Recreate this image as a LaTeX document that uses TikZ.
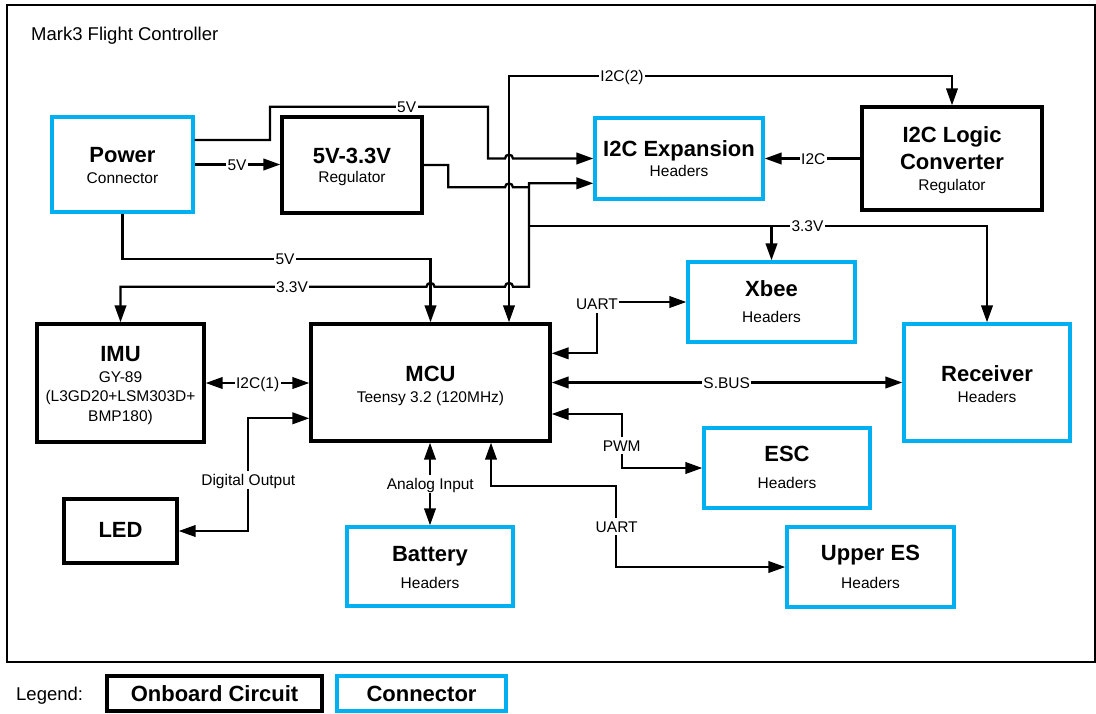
\documentclass[tikz,border=0pt]{standalone}
\usepackage{fontspec}
\setmainfont{Liberation Sans}
\usetikzlibrary{arrows.meta}
\definecolor{conn}{RGB}{0,176,240}
\newcommand\fbig{\fontsize{22}{26}\selectfont\bfseries}
\newcommand\fsm{\fontsize{15.5}{18}\selectfont}
\newcommand\fttl{\fontsize{18.5}{22}\selectfont}
\begin{document}
\begin{tikzpicture}[x=1pt,y=-1pt,
  >={Triangle[length=17pt,width=11.5pt]},
  wire/.style={line width=2.3pt,draw=black},
  onb/.style={draw=black,line width=3.3pt,inner sep=0pt},
  con/.style={draw=conn,line width=3.3pt,inner sep=0pt},
  ttl/.style={font=\fbig,inner sep=0pt,text height=15.75pt,text depth=0pt},
  sub/.style={font=\fsm,inner sep=0pt,text height=11.1pt,text depth=0pt},
  lbl/.style={font=\fsm,fill=white,inner xsep=1.5pt,inner ysep=3pt,text height=11.1pt,text depth=0pt}]
\useasboundingbox (0,0) rectangle (1096,713);
% frame
\draw[line width=2.2pt] (7,5) rectangle (1095,662);
\node[font=\fttl,anchor=base west,inner sep=0pt] (title) at (31,40) {Mark3 Flight Controller};
% boxes
\node[con,minimum width=141pt,minimum height=95pt] (pw) at (122.5,164.5) {};
\node[onb,minimum width=140pt,minimum height=96pt] (reg) at (352,165) {};
\node[con,minimum width=168pt,minimum height=81pt] (i2cx) at (679,158.5) {};
\node[onb,minimum width=180pt,minimum height=103pt] (i2cl) at (952,158.5) {};
\node[con,minimum width=167pt,minimum height=80pt] (xbee) at (771.5,302) {};
\node[con,minimum width=166pt,minimum height=117pt] (rcv) at (987,382.5) {};
\node[onb,minimum width=167pt,minimum height=118pt] (imu) at (120.5,383) {};
\node[onb,minimum width=239pt,minimum height=117pt] (mcu) at (430.5,382.5) {};
\node[con,minimum width=166pt,minimum height=80pt] (esc) at (787,468) {};
\node[con,minimum width=167pt,minimum height=80pt] (upes) at (870.5,567) {};
\node[con,minimum width=166pt,minimum height=79pt] (bat) at (430,566.5) {};
\node[onb,minimum width=113pt,minimum height=64pt] (led) at (120.5,531) {};
% box texts
\node[ttl] (pwT) at (122.5,155) {Power};
\node[sub] (pwS) at (122.5,177.5) {Connector};
\node[ttl] (regT) at (352,155.3) {5V-3.3V};
\node[sub] (regS) at (352,176.7) {Regulator};
\node[ttl] (i2cxT) at (679,148.3) {I2C Expansion};
\node[sub] (i2cxS) at (679,171.3) {Headers};
\node[ttl] (i2clT) at (952,134.7) {I2C Logic};
\node[ttl] (i2clT2) at (952,162) {Converter};
\node[sub] (i2clS) at (952,185) {Regulator};
\node[ttl] (xbeeT) at (771.5,288.7) {Xbee};
\node[sub] (xbeeS) at (771.5,316.7) {Headers};
\node[ttl] (rcvT) at (987,373.3) {Receiver};
\node[sub] (rcvS) at (987,397) {Headers};
\node[ttl] (imuT) at (120.5,354) {IMU};
\node[sub] (imuS1) at (120.5,376.5) {GY-89};
\node[sub] (imuS2) at (120.5,395.5) {(L3GD20+LSM303D+};
\node[sub] (imuS3) at (120.5,416) {BMP180)};
\node[ttl] (mcuT) at (430.5,373.3) {MCU};
\node[sub] (mcuS) at (430.5,396.7) {Teensy 3.2 (120MHz)};
\node[ttl] (escT) at (787,454) {ESC};
\node[sub] (escS) at (787,483) {Headers};
\node[ttl] (upesT) at (870.5,553) {Upper ES};
\node[sub] (upesS) at (870.5,582.7) {Headers};
\node[ttl] (batT) at (430,554) {Battery};
\node[sub] (batS) at (430,582.7) {Headers};
\node[ttl] (ledT) at (120.5,530) {LED};
% helper coordinates
\coordinate (c75) at (0,75.7);
\coordinate (c140) at (0,140);
\coordinate (c183) at (0,183.3);
\coordinate (c226) at (0,225.7);
\coordinate (c259) at (0,259.3);
\coordinate (c287) at (0,286.7);
\coordinate (c353) at (0,353.3);
\coordinate (c414) at (0,414);
\coordinate (c418) at (0,418.3);
\coordinate (c486) at (0,485.7);
\coordinate (x509) at (509,0);
\coordinate (x491) at (491,0);
\coordinate (x616) at (616,0);
\coordinate (x622) at (621.7,0);
\coordinate (x597) at (597,0);
\coordinate (x248) at (248.3,0);
\coordinate (x529) at (529,0);
% wires
\draw[wire,->] (pw.east) -- (pw.east -| reg.west);
\draw[wire,->] (pw.east |- c140) -- (270,140) -- (270,106.7) -- (488,106.7) -- (488,158.5) -- (505,158.5) .. controls (505,153.5) and (513,153.5) .. (513,158.5) -- (i2cx.west);
\draw[wire,->] (pw.south) -- (pw.south |- c259) -- (mcu.north |- c259) -- (mcu.north);
\draw[wire] (reg.east) -- (448.3,165) -- (448.3,187.3) -- (505,187.3) .. controls (505,182.3) and (513,182.3) .. (513,187.3) -- (529,187.3);
\draw[wire,<->] (i2cx.west |- c183) -- (x529 |- c183) -- (x529 |- c287) -- (513,286.7) .. controls (513,281.7) and (505,281.7) .. (505,286.7) -- (434.5,286.7) .. controls (434.5,281.7) and (426.5,281.7) .. (426.5,286.7) -- (imu.north |- c287) -- (imu.north);
\draw[wire,->] (x529 |- c226) -- (rcv.north |- c226) -- (rcv.north);
\draw[wire,->] (xbee.north |- c226) -- (xbee.north);
\draw[wire,<->] (mcu.north -| x509) -- (x509 |- c75) -- (i2cl.north |- c75) -- (i2cl.north);
\draw[wire,->] (i2cl.west) -- (i2cx.east);
\draw[wire,<->] (imu.east) -- (imu.east -| mcu.west);
\draw[wire,<->] (mcu.west |- c418) -- (x248 |- c418) -- (x248 |- led.east) -- (led.east);
\draw[wire,<->] (bat.north |- mcu.south) -- (bat.north);
\draw[wire,<->] (mcu.south -| x491) -- (x491 |- c486) -- (x616 |- c486) -- (x616 |- upes.west) -- (upes.west);
\draw[wire,<->] (mcu.east |- c414) -- (x622 |- c414) -- (x622 |- esc.west) -- (esc.west);
\draw[wire,<->] (mcu.east) -- (mcu.east -| rcv.west);
\draw[wire,<->] (mcu.east |- c353) -- (x597 |- c353) -- (x597 |- xbee.west) -- (xbee.west);
% wire labels
\node[lbl] (l5a) at (237,164.5) {5V};
\node[lbl] (l5b) at (406.7,106.7) {5V};
\node[lbl] (l5c) at (285,259.3) {5V};
\node[lbl] (l33a) at (292,286.7) {3.3V};
\node[lbl] (l33b) at (807.5,225.7) {3.3V};
\node[lbl] (li2c2) at (622,75.7) {I2C(2)};
\node[lbl] (li2c) at (813.3,158.5) {I2C};
\node[lbl] (li2c1) at (257.7,382.7) {I2C(1)};
\node[lbl] (ldig) at (248.3,480) {Digital Output};
\node[lbl] (lana) at (430.3,484) {Analog Input};
\node[lbl] (luart1) at (597,304) {UART};
\node[lbl] (lsbus) at (726.7,382.7) {S.BUS};
\node[lbl] (lpwm) at (621.7,445.7) {PWM};
\node[lbl] (luart2) at (616.7,526.7) {UART};
% legend
\node[font=\fttl,anchor=base west,inner sep=0pt] (legT) at (16,700) {Legend:};
\node[onb,minimum width=215pt,minimum height=35pt,font=\fbig,text height=15.75pt,text depth=0pt] (legO) at (214.5,693.5) {Onboard Circuit};
\node[con,minimum width=169pt,minimum height=35pt,font=\fbig,text height=15.75pt,text depth=0pt] (legC) at (421.5,693.5) {Connector};
\end{tikzpicture}
\end{document}
